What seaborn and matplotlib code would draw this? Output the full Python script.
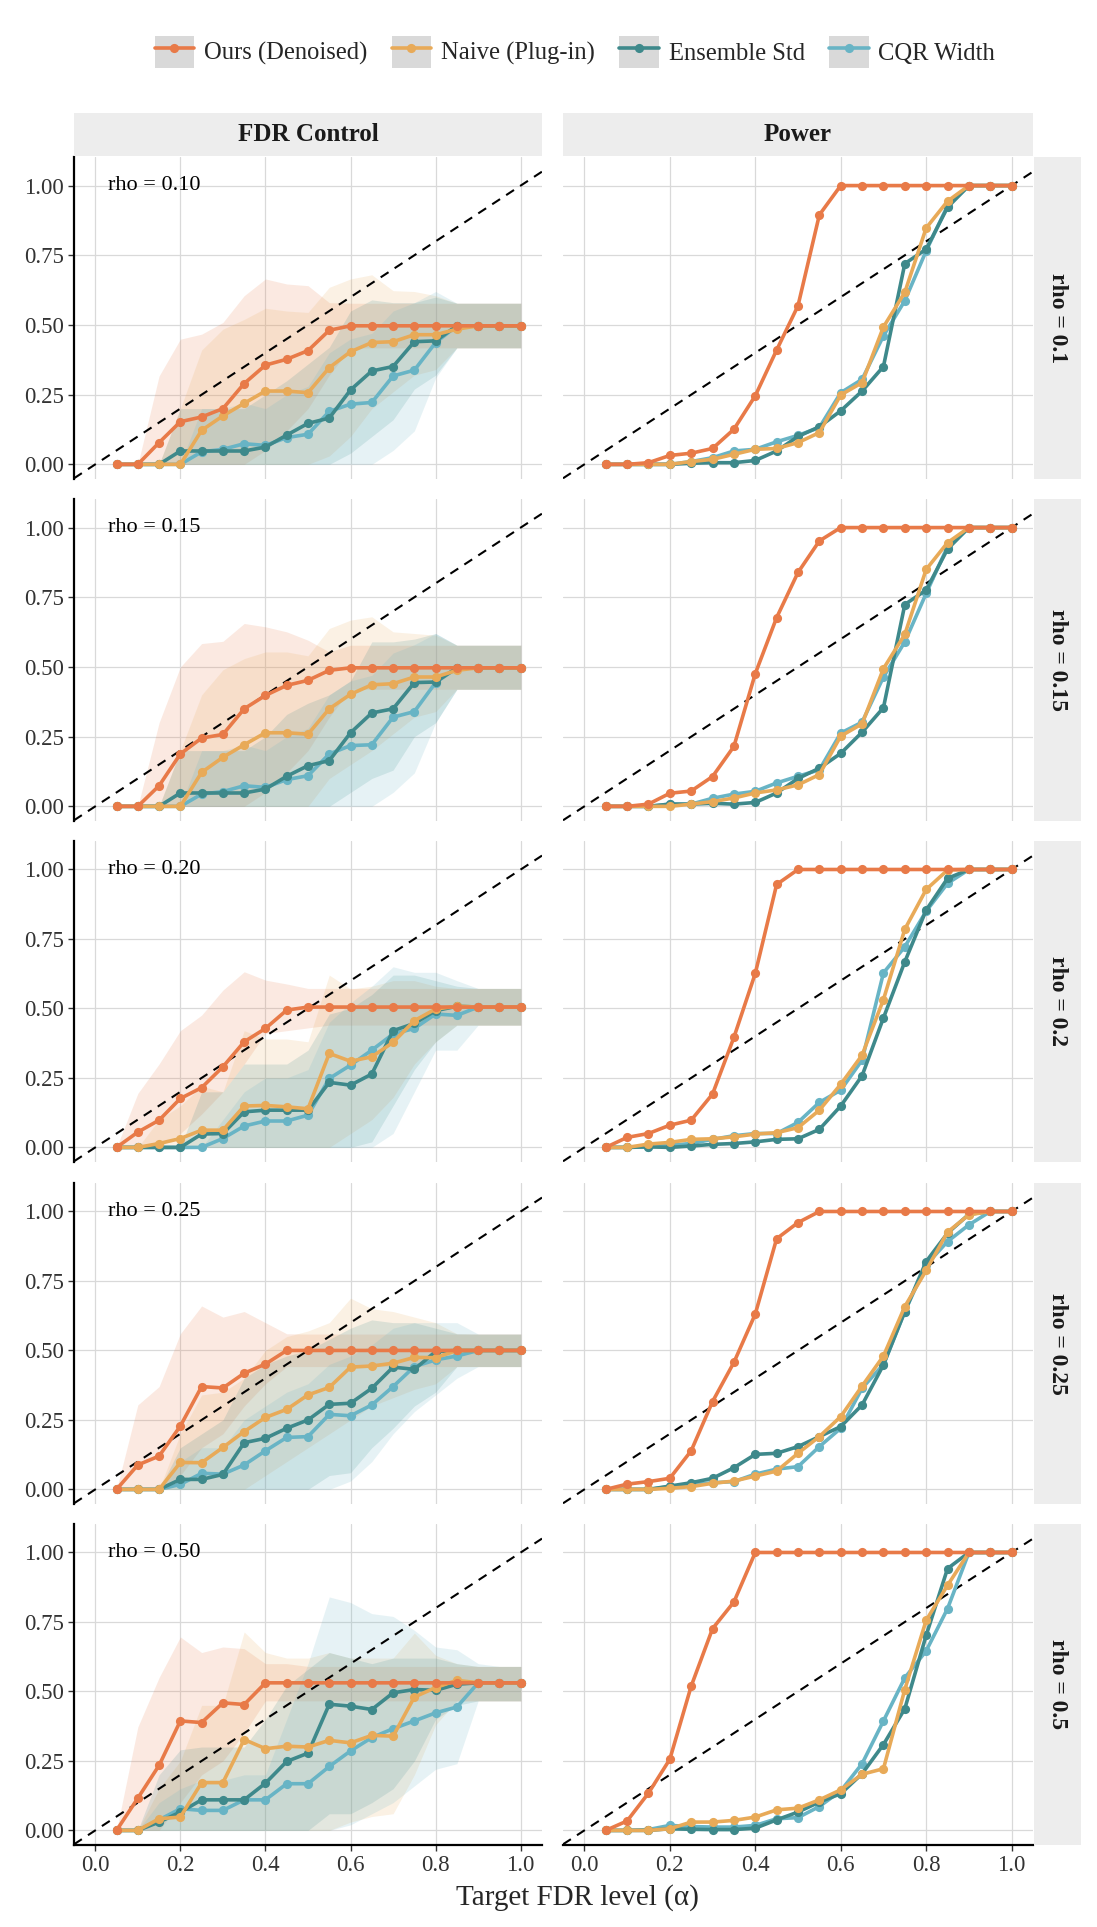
import matplotlib
matplotlib.use("Agg")
import matplotlib.pyplot as plt
import pandas as pd
import seaborn as sns
from matplotlib.patches import Patch
from matplotlib.lines import Line2D
from matplotlib.legend_handler import HandlerTuple

# 目標FDR水準 (x軸)
ALPHA = [0.05, 0.10, 0.15, 0.20, 0.25, 0.30, 0.35, 0.40, 0.45, 0.50,
         0.55, 0.60, 0.65, 0.70, 0.75, 0.80, 0.85, 0.90, 0.95, 1.00]

OURS, NAIVE, ENS, CQR = "Ours (Denoised)", "Naive (Plug-in)", "Ensemble Std", "CQR Width"
METHODS = [OURS, NAIVE, ENS, CQR]      # リボンはこの順 (CQRが一番上)
DRAW_ORDER = [CQR, ENS, NAIVE, OURS]   # 線は後に描いたものが上
COLORS = {OURS: "#E87A48", NAIVE: "#E8AA58", ENS: "#3E898B", CQR: "#68B4C5"}

RHO_TEXT = ["0.10", "0.15", "0.20", "0.25", "0.50"]
RHO_STRIP = ["0.1", "0.15", "0.2", "0.25", "0.5"]

# ---------------- rho = 0.10 ----------------
FDR_010 = {
    OURS: [0, 0, 0.078, 0.153, 0.17, 0.20, 0.29, 0.356, 0.377, 0.408, 0.481, 0.497, 0.497, 0.497, 0.497, 0.497, 0.497, 0.497, 0.497, 0.497],
    NAIVE: [0, 0, 0, 0, 0.122, 0.174, 0.219, 0.263, 0.263, 0.257, 0.347, 0.404, 0.437, 0.44, 0.465, 0.465, 0.485, 0.497, 0.497, 0.497],
    ENS: [0, 0, 0, 0.048, 0.048, 0.048, 0.048, 0.062, 0.105, 0.147, 0.166, 0.267, 0.335, 0.351, 0.44, 0.443, 0.497, 0.497, 0.497, 0.497],
    CQR: [0, 0, 0, 0, 0.045, 0.054, 0.074, 0.068, 0.096, 0.108, 0.19, 0.216, 0.222, 0.317, 0.338, 0.437, 0.497, 0.497, 0.497, 0.497],
}
LO_010 = {
    OURS: [0, 0, 0, 0, 0, 0, 0, 0.05, 0.12, 0.2, 0.32, 0.418, 0.418, 0.418, 0.418, 0.418, 0.418, 0.418, 0.418, 0.418],
    NAIVE: [0, 0, 0, 0, 0, 0, 0, 0, 0, 0, 0.03, 0.1, 0.2, 0.26, 0.32, 0.34, 0.418, 0.418, 0.418, 0.418],
    ENS: [0, 0, 0, 0, 0, 0, 0, 0, 0, 0, 0, 0.04, 0.1, 0.16, 0.27, 0.32, 0.418, 0.418, 0.418, 0.418],
    CQR: [0, 0, 0, 0, 0, 0, 0, 0, 0, 0, 0, 0, 0, 0.05, 0.12, 0.31, 0.418, 0.418, 0.418, 0.418],
}
HI_010 = {
    OURS: [0, 0, 0.317, 0.449, 0.467, 0.509, 0.605, 0.665, 0.647, 0.641, 0.58, 0.578, 0.578, 0.578, 0.578, 0.578, 0.578, 0.578, 0.578, 0.578],
    NAIVE: [0, 0, 0, 0.2, 0.41, 0.485, 0.52, 0.56, 0.55, 0.545, 0.635, 0.665, 0.68, 0.623, 0.62, 0.605, 0.578, 0.578, 0.578, 0.578],
    ENS: [0, 0, 0, 0.2, 0.2, 0.2, 0.2, 0.25, 0.3, 0.36, 0.42, 0.55, 0.59, 0.58, 0.58, 0.6, 0.578, 0.578, 0.578, 0.578],
    CQR: [0, 0, 0, 0, 0.2, 0.2, 0.22, 0.2, 0.25, 0.28, 0.4, 0.45, 0.47, 0.55, 0.58, 0.62, 0.578, 0.578, 0.578, 0.578],
}
POW_010 = {
    OURS: [0, 0, 0.006, 0.032, 0.04, 0.057, 0.126, 0.246, 0.41, 0.569, 0.895, 1, 1, 1, 1, 1, 1, 1, 1, 1],
    NAIVE: [0, 0, 0, 0, 0.01, 0.018, 0.036, 0.054, 0.057, 0.078, 0.114, 0.249, 0.293, 0.493, 0.617, 0.848, 0.944, 1, 1, 1],
    ENS: [0, 0, 0, 0, 0.004, 0.006, 0.006, 0.014, 0.048, 0.1, 0.135, 0.192, 0.263, 0.351, 0.72, 0.772, 0.922, 1, 1, 1],
    CQR: [0, 0, 0, 0, 0.01, 0.024, 0.048, 0.054, 0.081, 0.104, 0.132, 0.257, 0.305, 0.461, 0.587, 0.766, 0.928, 1, 1, 1],
}

# ---------------- rho = 0.15 ----------------
FDR_015 = {
    OURS: [0, 0, 0.074, 0.188, 0.245, 0.258, 0.35, 0.398, 0.434, 0.452, 0.488, 0.497, 0.497, 0.497, 0.497, 0.497, 0.497, 0.497, 0.497, 0.497],
    NAIVE: [0, 0, 0, 0, 0.122, 0.176, 0.221, 0.264, 0.264, 0.259, 0.35, 0.402, 0.436, 0.44, 0.464, 0.464, 0.488, 0.497, 0.497, 0.497],
    ENS: [0, 0, 0, 0.048, 0.048, 0.048, 0.048, 0.062, 0.108, 0.146, 0.164, 0.264, 0.335, 0.35, 0.444, 0.446, 0.497, 0.497, 0.497, 0.497],
    CQR: [0, 0, 0, 0, 0.044, 0.053, 0.074, 0.068, 0.096, 0.11, 0.188, 0.218, 0.221, 0.32, 0.34, 0.444, 0.497, 0.497, 0.497, 0.497],
}
LO_015 = {
    OURS: [0, 0, 0, 0, 0, 0, 0, 0.05, 0.12, 0.2, 0.32, 0.42, 0.42, 0.42, 0.42, 0.42, 0.42, 0.42, 0.42, 0.42],
    NAIVE: [0, 0, 0, 0, 0, 0, 0, 0, 0, 0, 0.1, 0.15, 0.2, 0.26, 0.32, 0.34, 0.42, 0.42, 0.42, 0.42],
    ENS: [0, 0, 0, 0, 0, 0, 0, 0, 0, 0, 0, 0.05, 0.1, 0.13, 0.25, 0.3, 0.42, 0.42, 0.42, 0.42],
    CQR: [0, 0, 0, 0, 0, 0, 0, 0, 0, 0, 0, 0, 0, 0.05, 0.12, 0.3, 0.42, 0.42, 0.42, 0.42],
}
HI_015 = {
    OURS: [0, 0, 0.30, 0.50, 0.584, 0.592, 0.656, 0.644, 0.626, 0.596, 0.554, 0.578, 0.578, 0.578, 0.578, 0.578, 0.578, 0.578, 0.578, 0.578],
    NAIVE: [0, 0, 0, 0.2, 0.40, 0.49, 0.53, 0.554, 0.554, 0.54, 0.638, 0.668, 0.68, 0.626, 0.62, 0.614, 0.578, 0.578, 0.578, 0.578],
    ENS: [0, 0, 0, 0.2, 0.2, 0.2, 0.2, 0.25, 0.33, 0.37, 0.40, 0.45, 0.59, 0.59, 0.6, 0.62, 0.578, 0.578, 0.578, 0.578],
    CQR: [0, 0, 0, 0, 0.2, 0.2, 0.22, 0.2, 0.25, 0.28, 0.4, 0.45, 0.47, 0.55, 0.58, 0.62, 0.578, 0.578, 0.578, 0.578],
}
POW_015 = {
    OURS: [0, 0, 0.008, 0.047, 0.055, 0.107, 0.215, 0.476, 0.677, 0.839, 0.952, 1, 1, 1, 1, 1, 1, 1, 1, 1],
    NAIVE: [0, 0, 0, 0, 0.008, 0.017, 0.03, 0.048, 0.059, 0.077, 0.114, 0.252, 0.296, 0.494, 0.617, 0.85, 0.946, 1, 1, 1],
    ENS: [0, 0, 0, 0.008, 0.008, 0.011, 0.008, 0.014, 0.048, 0.1, 0.137, 0.19, 0.266, 0.354, 0.724, 0.776, 0.923, 1, 1, 1],
    CQR: [0, 0, 0, 0.008, 0.008, 0.029, 0.044, 0.054, 0.084, 0.108, 0.131, 0.263, 0.302, 0.464, 0.59, 0.764, 0.932, 1, 1, 1],
}

# ---------------- rho = 0.20 ----------------
FDR_020 = {
    OURS: [0, 0.055, 0.098, 0.176, 0.215, 0.29, 0.38, 0.428, 0.494, 0.505, 0.505, 0.505, 0.505, 0.505, 0.505, 0.505, 0.505, 0.505, 0.505, 0.505],
    NAIVE: [0, 0, 0.014, 0.032, 0.062, 0.062, 0.149, 0.151, 0.146, 0.139, 0.338, 0.31, 0.326, 0.378, 0.456, 0.498, 0.508, 0.505, 0.505, 0.505],
    ENS: [0, 0, 0, 0, 0.048, 0.05, 0.128, 0.134, 0.134, 0.134, 0.234, 0.224, 0.264, 0.42, 0.446, 0.492, 0.508, 0.505, 0.505, 0.505],
    CQR: [0, 0, 0, 0, 0, 0.032, 0.077, 0.095, 0.095, 0.116, 0.248, 0.296, 0.35, 0.408, 0.428, 0.48, 0.475, 0.505, 0.505, 0.505],
}
LO_020 = {
    OURS: [0, 0, 0, 0.05, 0.12, 0.2, 0.3, 0.41, 0.42, 0.43, 0.44, 0.44, 0.44, 0.44, 0.44, 0.44, 0.44, 0.44, 0.44, 0.44],
    NAIVE: [0, 0, 0, 0, 0, 0, 0, 0, 0, 0, 0, 0.05, 0.1, 0.18, 0.3, 0.38, 0.44, 0.44, 0.44, 0.44],
    ENS: [0, 0, 0, 0, 0, 0, 0, 0, 0, 0, 0, 0, 0.02, 0.15, 0.28, 0.38, 0.44, 0.44, 0.44, 0.44],
    CQR: [0, 0, 0, 0, 0, 0, 0, 0, 0, 0, 0, 0, 0, 0.05, 0.2, 0.35, 0.35, 0.44, 0.44, 0.44],
}
HI_020 = {
    OURS: [0, 0.194, 0.30, 0.42, 0.476, 0.566, 0.632, 0.602, 0.588, 0.572, 0.572, 0.572, 0.572, 0.572, 0.572, 0.572, 0.572, 0.572, 0.572, 0.572],
    NAIVE: [0, 0, 0.1, 0.15, 0.22, 0.2, 0.42, 0.39, 0.39, 0.38, 0.62, 0.57, 0.58, 0.6, 0.6, 0.58, 0.572, 0.572, 0.572, 0.572],
    ENS: [0, 0, 0, 0, 0.2, 0.2, 0.3, 0.3, 0.3, 0.35, 0.48, 0.5, 0.55, 0.62, 0.62, 0.6, 0.58, 0.572, 0.572, 0.572],
    CQR: [0, 0, 0, 0, 0, 0.1, 0.2, 0.25, 0.25, 0.28, 0.45, 0.52, 0.58, 0.65, 0.63, 0.63, 0.6, 0.572, 0.572, 0.572],
}
POW_020 = {
    OURS: [0, 0.036, 0.05, 0.08, 0.098, 0.192, 0.396, 0.626, 0.946, 1, 1, 1, 1, 1, 1, 1, 1, 1, 1, 1],
    NAIVE: [0, 0, 0.012, 0.018, 0.029, 0.031, 0.038, 0.048, 0.053, 0.071, 0.134, 0.227, 0.332, 0.532, 0.785, 0.928, 0.998, 1, 1, 1],
    ENS: [0, 0, 0.002, 0, 0.005, 0.011, 0.014, 0.02, 0.029, 0.031, 0.065, 0.149, 0.258, 0.466, 0.668, 0.854, 0.968, 1, 1, 1],
    CQR: [0, 0, 0.002, 0.008, 0.014, 0.029, 0.042, 0.05, 0.05, 0.09, 0.162, 0.206, 0.314, 0.628, 0.722, 0.85, 0.95, 1, 1, 1],
}

# ---------------- rho = 0.25 ----------------
FDR_025 = {
    OURS: [0, 0.088, 0.12, 0.228, 0.37, 0.365, 0.418, 0.451, 0.5, 0.5, 0.5, 0.5, 0.5, 0.5, 0.5, 0.5, 0.5, 0.5, 0.5, 0.5],
    NAIVE: [0, 0, 0, 0.097, 0.096, 0.151, 0.208, 0.259, 0.288, 0.34, 0.367, 0.44, 0.444, 0.454, 0.475, 0.474, 0.5, 0.5, 0.5, 0.5],
    ENS: [0, 0, 0, 0.036, 0.036, 0.054, 0.168, 0.184, 0.22, 0.25, 0.306, 0.31, 0.364, 0.44, 0.432, 0.496, 0.5, 0.5, 0.5, 0.5],
    CQR: [0, 0, 0, 0.018, 0.058, 0.055, 0.088, 0.139, 0.187, 0.19, 0.27, 0.265, 0.304, 0.37, 0.442, 0.466, 0.48, 0.5, 0.5, 0.5],
}
LO_025 = {
    OURS: [0, 0, 0, 0.05, 0.15, 0.2, 0.3, 0.38, 0.442, 0.442, 0.442, 0.442, 0.442, 0.442, 0.442, 0.442, 0.442, 0.442, 0.442, 0.442],
    NAIVE: [0, 0, 0, 0, 0, 0, 0, 0.05, 0.1, 0.15, 0.2, 0.25, 0.3, 0.33, 0.36, 0.38, 0.442, 0.442, 0.442, 0.442],
    ENS: [0, 0, 0, 0, 0, 0, 0, 0, 0, 0, 0.05, 0.06, 0.15, 0.22, 0.3, 0.35, 0.442, 0.442, 0.442, 0.442],
    CQR: [0, 0, 0, 0, 0, 0, 0, 0, 0, 0, 0, 0.03, 0.1, 0.2, 0.28, 0.34, 0.4, 0.442, 0.442, 0.442],
}
HI_025 = {
    OURS: [0, 0.304, 0.37, 0.56, 0.66, 0.62, 0.64, 0.6, 0.56, 0.559, 0.559, 0.559, 0.559, 0.559, 0.559, 0.559, 0.559, 0.559, 0.559, 0.559],
    NAIVE: [0, 0, 0, 0.2, 0.34, 0.35, 0.4, 0.5, 0.55, 0.57, 0.6, 0.688, 0.65, 0.64, 0.62, 0.6, 0.56, 0.559, 0.559, 0.559],
    ENS: [0, 0, 0, 0.15, 0.2, 0.25, 0.4, 0.45, 0.48, 0.5, 0.54, 0.58, 0.61, 0.6, 0.6, 0.58, 0.56, 0.559, 0.559, 0.559],
    CQR: [0, 0, 0, 0.1, 0.15, 0.15, 0.25, 0.3, 0.35, 0.38, 0.45, 0.48, 0.52, 0.58, 0.6, 0.6, 0.6, 0.559, 0.559, 0.559],
}
POW_025 = {
    OURS: [0, 0.019, 0.028, 0.04, 0.139, 0.316, 0.457, 0.631, 0.902, 0.96, 1, 1, 1, 1, 1, 1, 1, 1, 1, 1],
    NAIVE: [0, 0, 0, 0.004, 0.01, 0.022, 0.03, 0.048, 0.066, 0.13, 0.19, 0.262, 0.372, 0.48, 0.658, 0.788, 0.926, 0.988, 1, 1],
    ENS: [0, 0, 0, 0.012, 0.024, 0.04, 0.078, 0.126, 0.13, 0.154, 0.19, 0.226, 0.304, 0.448, 0.64, 0.82, 0.922, 0.99, 1, 1],
    CQR: [0, 0, 0, 0.01, 0.018, 0.024, 0.028, 0.055, 0.073, 0.082, 0.154, 0.22, 0.364, 0.45, 0.64, 0.808, 0.892, 0.952, 1, 1],
}

# ---------------- rho = 0.50 ----------------
FDR_050 = {
    OURS: [0, 0.116, 0.234, 0.394, 0.388, 0.459, 0.453, 0.531, 0.531, 0.531, 0.531, 0.531, 0.531, 0.531, 0.531, 0.531, 0.531, 0.531, 0.531, 0.531],
    NAIVE: [0, 0, 0.042, 0.048, 0.172, 0.172, 0.327, 0.294, 0.303, 0.3, 0.324, 0.315, 0.342, 0.339, 0.48, 0.514, 0.54, 0.531, 0.531, 0.531],
    ENS: [0, 0, 0.03, 0.066, 0.11, 0.11, 0.11, 0.17, 0.248, 0.278, 0.454, 0.447, 0.435, 0.495, 0.507, 0.504, 0.526, 0.531, 0.531, 0.531],
    CQR: [0, 0, 0.038, 0.078, 0.072, 0.072, 0.11, 0.11, 0.168, 0.168, 0.23, 0.286, 0.334, 0.366, 0.394, 0.423, 0.444, 0.531, 0.531, 0.531],
}
LO_050 = {
    OURS: [0, 0, 0, 0.1, 0.2, 0.25, 0.35, 0.466, 0.466, 0.466, 0.466, 0.466, 0.466, 0.466, 0.466, 0.466, 0.466, 0.466, 0.466, 0.466],
    NAIVE: [0, 0, 0, 0, 0, 0, 0, 0, 0, 0, 0, 0.03, 0.05, 0.06, 0.2, 0.38, 0.466, 0.466, 0.466, 0.466],
    ENS: [0, 0, 0, 0, 0, 0, 0, 0, 0, 0, 0.06, 0.06, 0.1, 0.15, 0.25, 0.4, 0.45, 0.466, 0.466, 0.466],
    CQR: [0, 0, 0, 0, 0, 0, 0, 0, 0, 0, 0, 0.02, 0.06, 0.1, 0.16, 0.22, 0.24, 0.466, 0.466, 0.466],
}
HI_050 = {
    OURS: [0, 0.372, 0.55, 0.696, 0.64, 0.66, 0.654, 0.6, 0.6, 0.59, 0.59, 0.59, 0.59, 0.59, 0.59, 0.59, 0.59, 0.59, 0.59, 0.59],
    NAIVE: [0, 0, 0.15, 0.25, 0.45, 0.45, 0.714, 0.64, 0.62, 0.62, 0.64, 0.62, 0.62, 0.62, 0.71, 0.63, 0.6, 0.59, 0.59, 0.59],
    ENS: [0, 0, 0.2, 0.29, 0.3, 0.3, 0.3, 0.4, 0.52, 0.58, 0.64, 0.62, 0.6, 0.62, 0.62, 0.62, 0.6, 0.59, 0.59, 0.59],
    CQR: [0, 0, 0.1, 0.15, 0.18, 0.18, 0.2, 0.2, 0.4, 0.6, 0.84, 0.82, 0.78, 0.77, 0.72, 0.66, 0.65, 0.6, 0.59, 0.59],
}
POW_050 = {
    OURS: [0, 0.034, 0.134, 0.256, 0.519, 0.726, 0.822, 1, 1, 1, 1, 1, 1, 1, 1, 1, 1, 1, 1, 1],
    NAIVE: [0, 0, 0, 0.006, 0.03, 0.03, 0.036, 0.048, 0.074, 0.08, 0.11, 0.146, 0.202, 0.222, 0.507, 0.756, 0.882, 1, 1, 1],
    ENS: [0, 0, 0, 0.006, 0.004, 0.003, 0.003, 0.008, 0.038, 0.066, 0.102, 0.132, 0.204, 0.309, 0.438, 0.702, 0.942, 1, 1, 1],
    CQR: [0, 0, 0.003, 0.018, 0.014, 0.012, 0.012, 0.018, 0.042, 0.046, 0.086, 0.142, 0.24, 0.394, 0.549, 0.646, 0.798, 1, 1, 1],
}

FDR_ROWS = [FDR_010, FDR_015, FDR_020, FDR_025, FDR_050]
LO_ROWS = [LO_010, LO_015, LO_020, LO_025, LO_050]
HI_ROWS = [HI_010, HI_015, HI_020, HI_025, HI_050]
POW_ROWS = [POW_010, POW_015, POW_020, POW_025, POW_050]


def to_long(values):
    rows = []
    for m, ys in values.items():
        for a, y in zip(ALPHA, ys):
            rows.append({"alpha": a, "value": y, "method": m})
    return pd.DataFrame(rows)


sns.set_theme(style="white")
plt.rcParams["font.family"] = ["Liberation Serif", "DejaVu Serif"]

W, H = 1097, 1927
fig = plt.figure(figsize=(W / 100, H / 100), dpi=100)


def px_axes(x0, y0, x1, y1):
    return fig.add_axes([x0 / W, 1 - y1 / H, (x1 - x0) / W, (y1 - y0) / H])


COL_X = [(74, 542), (563, 1033)]
ROW_Y = [(157, 479), (499, 821), (841, 1162), (1183, 1504), (1524, 1845)]
STRIP_BG = "#EDEDED"
TXT = "#333333"
LW, MS = 2.6, 6.6

for r in range(5):
    for c in range(2):
        ax = px_axes(COL_X[c][0], ROW_Y[r][0], COL_X[c][1], ROW_Y[r][1])
        ax.set_facecolor("white")
        ax.set_axisbelow(True)
        ax.grid(True, color="#D9D9D9", linewidth=0.9)

        if c == 0:
            lo, hi = LO_ROWS[r], HI_ROWS[r]
            for m in METHODS:
                ax.fill_between(ALPHA, lo[m], hi[m], color=COLORS[m], alpha=0.16, linewidth=0)
            data = to_long(FDR_ROWS[r])
        else:
            data = to_long(POW_ROWS[r])

        ax.axline((0, 0), (1, 1), color="black", linewidth=1.5, linestyle=(0, (4.5, 3.5)), zorder=2)

        sns.lineplot(data=data, x="alpha", y="value", hue="method", hue_order=DRAW_ORDER,
                     palette=COLORS, estimator=None, errorbar=None, legend=False,
                     linewidth=LW, marker="o", markersize=MS, markeredgewidth=0,
                     ax=ax, zorder=3)

        ax.set_xlim(-0.05, 1.05)
        ax.set_ylim(-0.0525, 1.1025)
        ax.set_xticks([0, 0.2, 0.4, 0.6, 0.8, 1.0])
        ax.set_yticks([0, 0.25, 0.5, 0.75, 1.0])
        ax.set_xlabel("")
        ax.set_ylabel("")
        for s in ax.spines.values():
            s.set_visible(False)

        if c == 0:
            ax.spines["left"].set_visible(True)
            ax.spines["left"].set_color("black")
            ax.spines["left"].set_linewidth(1.6)
            ax.set_yticklabels(["0.00", "0.25", "0.50", "0.75", "1.00"])
            ax.tick_params(axis="y", left=True, length=4, width=1, color=TXT,
                           labelsize=16.5, labelcolor=TXT, pad=3)
            ax.text(0.03, 1.0, f"rho = {RHO_TEXT[r]}", ha="left", va="center", fontsize=16, color="black")
        else:
            ax.tick_params(axis="y", left=False, labelleft=False)

        if r == 4:
            ax.spines["bottom"].set_visible(True)
            ax.spines["bottom"].set_color("black")
            ax.spines["bottom"].set_linewidth(1.6)
            ax.set_xticklabels(["0.0", "0.2", "0.4", "0.6", "0.8", "1.0"])
            ax.tick_params(axis="x", bottom=True, length=4, width=1, color=TXT,
                           labelsize=16.5, labelcolor=TXT, pad=3)
        else:
            ax.tick_params(axis="x", bottom=False, labelbottom=False)

    # 右側のストリップ
    sax = px_axes(1034, ROW_Y[r][0], 1081, ROW_Y[r][1])
    sax.set_facecolor(STRIP_BG)
    sax.set_xticks([])
    sax.set_yticks([])
    for s in sax.spines.values():
        s.set_visible(False)
    sax.text(0.5, 0.5, f"rho = {RHO_STRIP[r]}", rotation=-90, ha="center", va="center",
             fontsize=17, fontweight="bold", color="#1A1A1A", transform=sax.transAxes)

# 上のストリップ
for c, title in enumerate(["FDR Control", "Power"]):
    tax = px_axes(COL_X[c][0], 113, COL_X[c][1], 156)
    tax.set_facecolor(STRIP_BG)
    tax.set_xticks([])
    tax.set_yticks([])
    for s in tax.spines.values():
        s.set_visible(False)
    tax.text(0.5, 0.5, title, ha="center", va="center", fontsize=18, fontweight="bold",
             color="#1A1A1A", transform=tax.transAxes)

fig.text(577 / W, 1 - 1898 / H, "Target FDR level (α)", ha="center", va="center", fontsize=21)

# 凡例
handles = [(Patch(facecolor="#D9D9D9", edgecolor="none"),
            Line2D([], [], color=COLORS[m], linewidth=LW, marker="o", markersize=MS, markeredgewidth=0))
           for m in METHODS]
fig.legend(handles, METHODS, loc="center", bbox_to_anchor=(575 / W, 1 - 52 / H), ncol=4,
           frameon=False, fontsize=17.7, handlelength=1.6, handleheight=1.65, handletextpad=0.4,
           columnspacing=1.0, handler_map={tuple: HandlerTuple(ndivide=1)})

fig.savefig("out.png", dpi=100)
